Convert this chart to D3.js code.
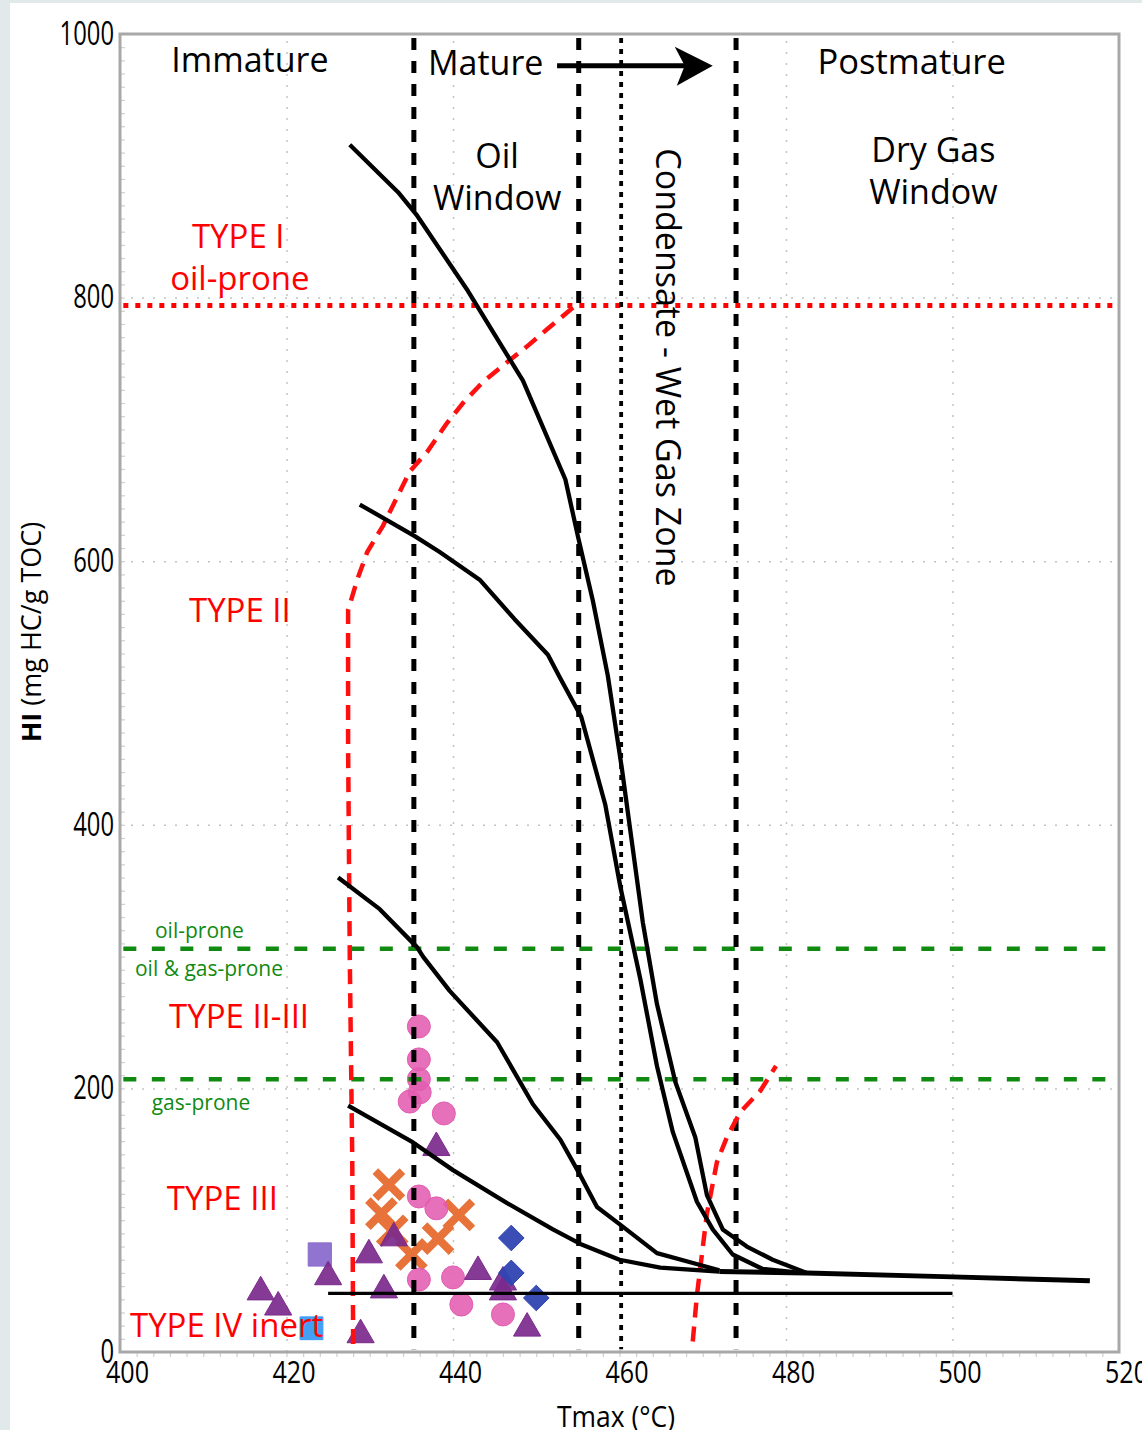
<!DOCTYPE html>
<html>
<head>
<meta charset="utf-8">
<script src="https://cdn.jsdelivr.net/npm/d3@7"></script>
<style>
body { margin: 0; background: #e2e9eb; }
svg { display: block; font-family: "Open Sans", sans-serif; }
</style>
</head>
<body>
<svg id="chart"></svg>
<script>
// ---- data (Tmax in °C, HI in mg HC/g TOC) ----
var xTicks = [400, 420, 440, 460, 480, 500, 520];
var yTicks = [0, 200, 400, 600, 800, 1000];

// maturation pathways
var curveTypeI = [[427.6,916],[433.4,880],[435.6,863],[441.8,805],[448.4,737],[453.5,662],[455,619],[456.8,570],[458.6,513],[460.3,442],[462.8,326],[464.5,264],[466.7,205],[469.1,163],[470.5,119],[472.4,93],[475.3,80],[478.4,70],[482.5,60]];
var curveTypeII = [[428.8,643],[435.4,619],[438.4,607],[443.2,586],[447.4,556],[451.4,529],[452.9,511],[455.4,482],[458.3,415],[460.1,353],[462.5,283],[464.5,217],[466.4,167],[469.3,114],[471.2,93],[473.6,74],[477.2,63],[481,60.5]];
var curveTypeIIIII = [[426.2,360],[431.2,336],[435.7,307],[436.4,300],[439.6,274],[445.3,235],[449.6,188],[452.9,161],[455.3,134],[457.3,110],[460,97],[464.5,75],[469.7,66],[472,62]];
var curveTypeIII = [[427.4,187],[435.2,159],[440,138],[446.5,113],[452,93],[455.3,82],[460,70],[464.9,64],[472,61]];
var curveTail = [[472,61],[482.5,60],[500,57],[516.5,54]];
var typeIVLine = [[425,44.5],[500,44.5]];

// red dashed boundaries
var boundaryLeft = [[428,6],[428,15],[427.9,146],[427.6,300],[427.4,459],[427.4,563],[428.5,586],[429.7,607],[431.6,627],[434.8,668],[436.9,683],[439.3,705],[441.2,720],[443.6,736],[446.5,751],[448.9,763],[451.3,776],[454.9,795]];
var boundaryRight = [[468.8,8],[469.3,43],[470.5,105],[471.7,144],[472.9,163],[474.5,182],[476.9,198],[478.8,217]];

// thresholds
var hiTypeI = 794;
var hiOilProne = 306;
var hiGasProne = 207;
var tmaxOil = 435.3;
var tmaxWet = 455.1;
var tmaxCond = 460.2;
var tmaxDry = 474;

// samples
var circleT  = [435.9, 435.9, 435.9, 436, 434.8, 438.9, 435.9, 438, 435.9, 440, 441, 446];
var circleHI = [247, 222, 207, 197, 190, 181, 118, 109, 55, 56.6, 36, 28.5];
var triT  = [438, 432.9, 429.9, 425, 431.7, 416.9, 419, 428.9, 443, 446, 446, 448.9];
var triHI = [155, 86.5, 73.6, 57, 47, 45.5, 34, 13, 61, 53, 45.5, 18];
var crossT  = [432.3, 431.4, 432.7, 435, 438.2, 440.7];
var crossHI = [127, 105, 92, 74, 86, 104];
var diamondT  = [447, 447, 450];
var diamondHI = [86.5, 60, 41];
var lavenderSquare = [[424, 74]];
var blueSquare = [[423, 18]];

// ---- layout ----
var size = { width: 1142, height: 1430 };
var frame = { left: 120, right: 1119, top: 34, bottom: 1352 };

var x = d3.scaleLinear().domain([400, 520]).range([frame.left, frame.right]);
var y = d3.scaleLinear().domain([0, 1000]).range([frame.bottom, frame.top]);

var svg = d3.select("#chart")
  .attr("width", size.width)
  .attr("height", size.height);

svg.append("rect")
  .attr("x", 10).attr("y", 3)
  .attr("width", size.width - 10).attr("height", size.height - 3)
  .attr("fill", "#fff");

// dotted grid
svg.append("g")
  .attr("transform", "translate(0," + frame.bottom + ")")
  .call(d3.axisBottom(x).tickValues([420, 440, 460, 480, 500]).tickSize(-(frame.bottom - frame.top)).tickFormat(""))
  .call(function(g){ g.select(".domain").remove(); })
  .selectAll("line")
    .attr("stroke", "#c2c2c2").attr("stroke-width", 1.5).attr("stroke-dasharray", "2,9");

svg.append("g")
  .attr("transform", "translate(" + frame.left + ",0)")
  .call(d3.axisLeft(y).tickValues([200, 400, 600, 800]).tickSize(-(frame.right - frame.left)).tickFormat(""))
  .call(function(g){ g.select(".domain").remove(); })
  .selectAll("line")
    .attr("stroke", "#c2c2c2").attr("stroke-width", 1.5).attr("stroke-dasharray", "2,9");

// minor ticks
svg.append("g")
  .attr("transform", "translate(0," + frame.bottom + ")")
  .call(d3.axisBottom(x).tickValues(d3.range(402, 520, 2)).tickSize(5).tickFormat(""))
  .call(function(g){ g.select(".domain").remove(); })
  .selectAll("line").attr("stroke", "#d0d0d0").attr("stroke-width", 1.2);

svg.append("g")
  .attr("transform", "translate(" + frame.left + ",0)")
  .call(d3.axisLeft(y).tickValues(d3.range(10, 1000, 10)).tickSize(-5).tickFormat(""))
  .call(function(g){ g.select(".domain").remove(); })
  .selectAll("line").attr("stroke", "#d0d0d0").attr("stroke-width", 1.2);

// ---- sample markers ----
var marks = svg.append("g");

function drawSymbols(pts, type, sz, fill, opacity) {
  marks.selectAll(null)
    .data(pts)
    .enter().append("path")
    .attr("d", d3.symbol().type(type).size(sz))
    .attr("transform", function(d){ return "translate(" + x(d[0]) + "," + y(d[1]) + ")"; })
    .attr("fill", fill)
    .attr("fill-opacity", opacity)
    .attr("stroke", fill)
    .attr("stroke-width", 1);
}

drawSymbols(lavenderSquare, d3.symbolSquare, 540, "#8b6dcc", 0.95);
drawSymbols(blueSquare, d3.symbolSquare, 520, "#3a9bf4", 0.95);

var crosses = d3.zip(crossT, crossHI);
marks.selectAll(null)
  .data(crosses)
  .enter().append("path")
  .attr("d", d3.symbol().type(d3.symbolX).size(480))
  .attr("transform", function(d){ return "translate(" + x(d[0]) + "," + y(d[1]) + ")"; })
  .attr("fill", "none")
  .attr("stroke", "#e8733a")
  .attr("stroke-width", 8);

var circles = d3.zip(circleT, circleHI);
marks.selectAll(null)
  .data(circles)
  .enter().append("circle")
  .attr("cx", function(d){ return x(d[0]); })
  .attr("cy", function(d){ return y(d[1]); })
  .attr("r", 11.5)
  .attr("fill", "#e35cb0")
  .attr("fill-opacity", 0.88)
  .attr("stroke", "#e35cb0")
  .attr("stroke-width", 1);

drawSymbols(d3.zip(triT, triHI), d3.symbolTriangle, 320, "#7b2a8c", 0.92);
drawSymbols(d3.zip(diamondT, diamondHI), d3.symbolDiamond2, 420, "#2f45b2", 0.95);

// ---- boundary lines ----
var line = d3.line()
  .x(function(d){ return x(d[0]); })
  .y(function(d){ return y(d[1]); });

var lines = svg.append("g").attr("fill", "none");

function hLine(v, color, width, dash) {
  lines.append("path")
    .attr("d", line([[400.4, v], [519.6, v]]))
    .attr("stroke", color).attr("stroke-width", width).attr("stroke-dasharray", dash);
}
function vLine(v, width, dash) {
  lines.append("path")
    .attr("d", line([[v, 997], [v, 2]]))
    .attr("stroke", "#000").attr("stroke-width", width).attr("stroke-dasharray", dash);
}

hLine(hiTypeI, "#ff0000", 5, "5,7");
hLine(hiOilProne, "#118a11", 4.5, "13,15.5");
hLine(hiGasProne, "#118a11", 4.5, "13,15.5");

vLine(tmaxOil, 5, "12,11");
vLine(tmaxWet, 5, "12,11");
vLine(tmaxCond, 3.8, "5,6");
vLine(tmaxDry, 5, "12,11");

lines.selectAll(null)
  .data([boundaryLeft, boundaryRight])
  .enter().append("path")
  .attr("d", line)
  .attr("stroke", "#ff1010").attr("stroke-width", 4.5).attr("stroke-dasharray", "15,9");

lines.selectAll(null)
  .data([curveTypeI, curveTypeII, curveTypeIIIII, curveTypeIII])
  .enter().append("path")
  .attr("d", line)
  .attr("stroke", "#000").attr("stroke-width", 4.3).attr("stroke-linejoin", "round");

lines.append("path").attr("d", line(curveTail))
  .attr("stroke", "#000").attr("stroke-width", 5);
lines.append("path").attr("d", line(typeIVLine))
  .attr("stroke", "#000").attr("stroke-width", 3.2);

// maturity arrow
var arrowFrom = [452.5, 976], arrowTo = [471.2, 976];
lines.append("path").attr("d", line([arrowFrom, [469, 976]]))
  .attr("stroke", "#000").attr("stroke-width", 5);
var tx = x(arrowTo[0]), ty = y(arrowTo[1]);
svg.append("path")
  .attr("d", "M" + tx + "," + ty + "L" + (tx - 38) + "," + (ty - 19) + "L" + (tx - 28) + "," + ty + "L" + (tx - 36) + "," + (ty + 20) + "Z")
  .attr("fill", "#000");

// ---- annotations ----
var notes = [
  { t: "Immature", T: 415.6, HI: 971, size: 34, color: "#000", anchor: "middle" },
  { t: "Mature", T: 437, HI: 969, size: 34, color: "#000", anchor: "start" },
  { t: "Postmature", T: 495.1, HI: 970, size: 34.5, color: "#000", anchor: "middle" },
  { t: "Oil", T: 445.3, HI: 898, size: 34, color: "#000", anchor: "middle" },
  { t: "Window", T: 445.3, HI: 866.5, size: 34, color: "#000", anchor: "middle" },
  { t: "Dry Gas", T: 497.7, HI: 903, size: 34, color: "#000", anchor: "middle" },
  { t: "Window", T: 497.7, HI: 871, size: 34, color: "#000", anchor: "middle" },
  { t: "TYPE I", T: 414.2, HI: 837.6, size: 33, color: "#ff0000", anchor: "middle" },
  { t: "oil-prone", T: 414.4, HI: 805.8, size: 33, color: "#ff0000", anchor: "middle" },
  { t: "TYPE II", T: 414.4, HI: 553.9, size: 33, color: "#ff0000", anchor: "middle" },
  { t: "TYPE II-III", T: 414.3, HI: 245.8, size: 33, color: "#ff0000", anchor: "middle" },
  { t: "TYPE III", T: 412.3, HI: 107.7, size: 33, color: "#ff0000", anchor: "middle" },
  { t: "TYPE IV inert", T: 401.2, HI: 11.4, size: 33, color: "#ff0000", anchor: "start" },
  { t: "oil-prone", T: 404.2, HI: 314, size: 21, color: "#118a11", anchor: "start" },
  { t: "oil & gas-prone", T: 401.8, HI: 285, size: 21, color: "#118a11", anchor: "start" },
  { t: "gas-prone", T: 403.8, HI: 183.6, size: 21, color: "#118a11", anchor: "start" }
];

svg.append("g").selectAll("text")
  .data(notes)
  .enter().append("text")
  .attr("x", function(d){ return x(d.T); })
  .attr("y", function(d){ return y(d.HI); })
  .attr("font-size", function(d){ return d.size; })
  .attr("fill", function(d){ return d.color; })
  .attr("text-anchor", function(d){ return d.anchor; })
  .text(function(d){ return d.t; });

svg.append("text")
  .attr("transform", "translate(" + x(464.4) + "," + y(747) + ") rotate(90)")
  .attr("text-anchor", "middle")
  .attr("font-size", 34)
  .text("Condensate - Wet Gas Zone");

// ---- frame and axes ----
svg.append("rect")
  .attr("x", frame.left).attr("y", frame.top)
  .attr("width", frame.right - frame.left).attr("height", frame.bottom - frame.top)
  .attr("fill", "none").attr("stroke", "#a8a8a8").attr("stroke-width", 3);

svg.append("g")
  .attr("transform", "translate(7," + frame.bottom + ")")
  .call(d3.axisBottom(x).tickValues(xTicks).tickSize(0))
  .call(function(g){ g.select(".domain").remove(); })
  .selectAll("text")
    .attr("y", 31).attr("dy", 0)
    .attr("font-family", "Open Sans, sans-serif")
    .attr("font-size", 31).attr("fill", "#000")
    .attr("textLength", 43).attr("lengthAdjust", "spacingAndGlyphs");

svg.append("g")
  .attr("transform", "translate(" + (frame.left - 6) + ",0)")
  .call(d3.axisLeft(y).tickValues(yTicks).tickSize(0).tickPadding(0).tickFormat(d3.format("d")))
  .call(function(g){ g.select(".domain").remove(); })
  .selectAll("text")
    .attr("font-family", "Open Sans, sans-serif")
    .attr("font-size", 32).attr("fill", "#000")
    .attr("textLength", function(d){ return String(d).length * 13.6; })
    .attr("lengthAdjust", "spacingAndGlyphs");

var yTitle = svg.append("text")
  .attr("transform", "translate(41," + 632 + ") rotate(-90)")
  .attr("text-anchor", "middle")
  .attr("font-size", 27);
yTitle.append("tspan").attr("font-weight", "bold").text("HI");
yTitle.append("tspan").text(" (mg HC/g TOC)");

svg.append("text")
  .attr("x", 616).attr("y", 1427)
  .attr("text-anchor", "middle")
  .attr("font-size", 29)
  .attr("textLength", 118).attr("lengthAdjust", "spacingAndGlyphs")
  .text("Tmax (°C)");
</script>
</body>
</html>
